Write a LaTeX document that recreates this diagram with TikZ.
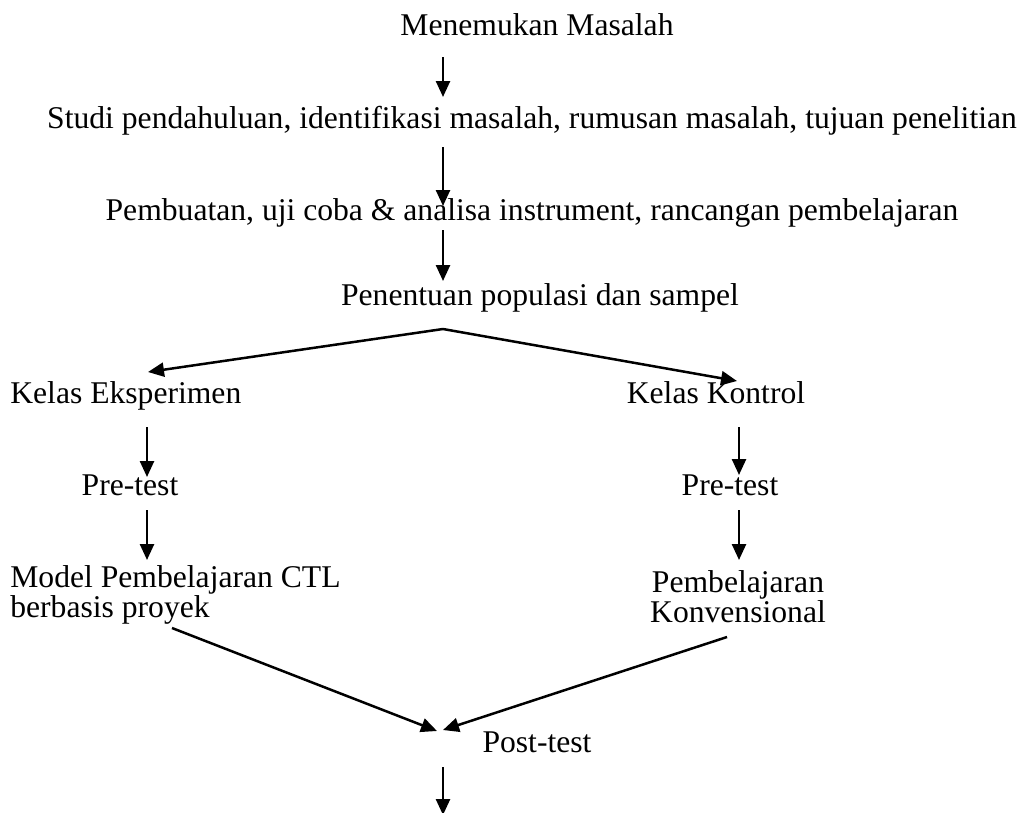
\documentclass[tikz,border=0pt]{standalone}
\usepackage{fontspec}
\setmainfont{Liberation Serif}
\usetikzlibrary{arrows.meta,calc}

\begin{document}
\begin{tikzpicture}[x=0.02cm,y=-0.02cm,
    font=\fontsize{18}{21}\selectfont,
    lbl/.style={anchor=base,inner sep=0pt},
    arr/.style={line width=0.05cm,-{Triangle[width=0.28cm,length=0.32cm]}}]
  \useasboundingbox (0,0) rectangle (1033,812);
  % axis of the middle column
  \coordinate (axis) at (443,0);
  % steps
  \node[lbl] (masalah) at (537,35) {Menemukan Masalah};
  \node[lbl] (studi) at (532,128) {Studi pendahuluan, identifikasi masalah, rumusan masalah, tujuan penelitian};
  \node[lbl] (buat) at (532,220) {Pembuatan, uji coba \& analisa instrument, rancangan pembelajaran};
  \node[lbl] (sampel) at (540,305) {Penentuan populasi dan sampel};
  % two classes
  \node[lbl,anchor=base west] (eksp) at (10,403) {Kelas Eksperimen};
  \node[lbl] (kontrol) at (716,403) {Kelas Kontrol};
  \node[lbl] (preA) at (130,495) {Pre-test};
  \node[lbl] (preB) at (730,495) {Pre-test};
  \node[lbl,anchor=north west,align=left,font=\fontsize{18}{15.9}\selectfont]
    (ctl) at (10,565) {Model Pembelajaran CTL\\berbasis proyek};
  \node[lbl,anchor=north,align=center,font=\fontsize{18}{15.9}\selectfont]
    (konv) at (738,570) {Pembelajaran\\Konvensional};
  \node[lbl] (post) at (537,752) {Post-test};
  % arrows
  \draw[arr] ($(masalah.base -| axis)+(0,22)$) -- ($(studi.base -| axis)+(0,-31)$);
  \draw[arr] ($(studi.base -| axis)+(0,19)$) -- ($(buat.base -| axis)+(0,-14)$);
  \draw[arr] ($(buat.base -| axis)+(0,10)$) -- ($(sampel.base -| axis)+(0,-24)$);
  \draw[arr] ($(sampel.base -| axis)+(0,24)$) -- ($(eksp.base west)+(138,-31)$);
  \draw[arr] ($(sampel.base -| axis)+(0,24)$) -- ($(kontrol.base)+(21,-22)$);
  \draw[arr] ($(eksp.base west)+(137,24)$) -- ($(preA.base)+(17,-18)$);
  \draw[arr] ($(preA.base)+(17,15)$) -- ($(ctl.north west)+(137,-5)$);
  \draw[arr] ($(kontrol.base)+(23,24)$) -- ($(preB.base)+(9,-20)$);
  \draw[arr] ($(preB.base)+(9,15)$) -- ($(konv.north)+(1,-10)$);
  \draw[arr] ($(ctl.north west)+(162,63)$) -- ($(post.base)+(-100,-21)$);
  \draw[arr] ($(konv.north)+(-11,67)$) -- ($(post.base)+(-94,-22)$);
  \draw[arr] ($(post.base)+(-94,15)$) -- ($(post.base)+(-94,63)$);
\end{tikzpicture}
\end{document}
